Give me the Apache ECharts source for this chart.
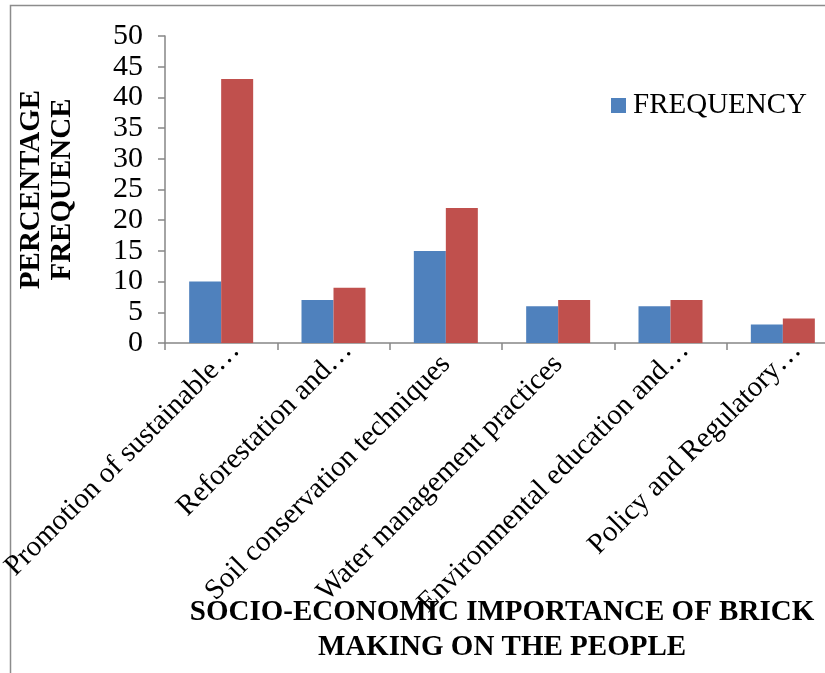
<!DOCTYPE html>
<html>
<head>
<meta charset="utf-8">
<script src="https://cdn.jsdelivr.net/npm/echarts@6/dist/echarts.min.js"></script>
<style>
  html, body { margin: 0; padding: 0; background: #fff; overflow: hidden; }
  #chart { width: 825px; height: 673px; }
</style>
</head>
<body>
<div id="chart"></div>
<script>
// Socio-economic importance of brick making: frequency and percentage per category
const categories = [
  'Promotion of sustainable\u2026',
  'Reforestation and\u2026',
  'Soil conservation techniques',
  'Water management practices',
  'Environmental education and\u2026',
  'Policy and Regulatory\u2026'
];
const frequency = [10, 7, 15, 6, 6, 3];
const percentage = [43, 9, 22, 7, 7, 4];
const yTicks = { min: 0, max: 50, interval: 5 };

const serif = '"Liberation Serif", "Times New Roman", serif';
const axisGray = '#868686';

// truncated names sit a little further along their slant
const categoryItems = categories.map(function (name) {
  const cut = name.endsWith('\u2026');
  return cut ? { value: name, textStyle: { padding: [0, -20, 0, 0] } } : name;
});

const chart = echarts.init(document.getElementById('chart'), null, { renderer: 'canvas' });

chart.setOption({
  animation: false,
  backgroundColor: '#ffffff',
  textStyle: { fontFamily: serif, color: '#000' },
  grid: {
    left: 165, top: 36, right: -14, bottom: 330,
    containLabel: false,
    outerBoundsMode: 'none'
  },
  legend: {
    data: ['FREQUENCY'],
    left: 611,
    top: 91,
    padding: 0,
    icon: 'rect',
    itemWidth: 15,
    itemHeight: 15,
    itemGap: 10,
    textStyle: { fontFamily: serif, fontSize: 29, color: '#000', padding: [0, 0, 0, 2] }
  },
  xAxis: {
    type: 'category',
    data: categoryItems,
    name: 'SOCIO-ECONOMIC IMPORTANCE OF BRICK\nMAKING ON THE PEOPLE',
    nameLocation: 'middle',
    nameGap: 252,
    nameMoveOverlap: false,
    nameTextStyle: {
      fontFamily: serif, fontSize: 29, fontWeight: 'bold', color: '#000',
      lineHeight: 35, align: 'center'
    },
    axisLine: { show: true, lineStyle: { color: axisGray, width: 1.5 } },
    axisTick: { show: true, length: 7, lineStyle: { color: axisGray, width: 1.5 } },
    axisLabel: {
      rotate: 45, interval: 0, margin: 17,
      fontFamily: serif, fontSize: 29, color: '#000'
    },
    splitLine: { show: false }
  },
  yAxis: {
    type: 'value',
    min: yTicks.min,
    max: yTicks.max,
    interval: yTicks.interval,
    name: 'PERCENTAGE\nFREQUENCE',
    nameLocation: 'middle',
    nameGap: 87,
    nameMoveOverlap: false,
    nameTextStyle: {
      fontFamily: serif, fontSize: 29, fontWeight: 'bold', color: '#000',
      lineHeight: 31, align: 'center'
    },
    axisLine: { show: true, lineStyle: { color: axisGray, width: 1.5 } },
    axisTick: { show: true, length: 7, lineStyle: { color: axisGray, width: 1.5 } },
    axisLabel: { margin: 22, fontFamily: serif, fontSize: 30, color: '#000' },
    splitLine: { show: false }
  },
  series: [
    {
      name: 'FREQUENCY',
      type: 'bar',
      data: frequency,
      barWidth: 32,
      barGap: '0%',
      itemStyle: { color: '#4F81BD' }
    },
    {
      name: 'PERCENTAGE',
      type: 'bar',
      data: percentage,
      barWidth: 32,
      barGap: '0%',
      itemStyle: { color: '#C0504D' }
    }
  ],
  graphic: [
    // outer frame: top and left edges
    {
      type: 'polyline',
      silent: true,
      shape: { points: [[10.5, 673], [10.5, 5.5], [825, 5.5]] },
      style: { stroke: '#8c8c8c', lineWidth: 1.5, fill: null }
    }
  ]
});
</script>
</body>
</html>
